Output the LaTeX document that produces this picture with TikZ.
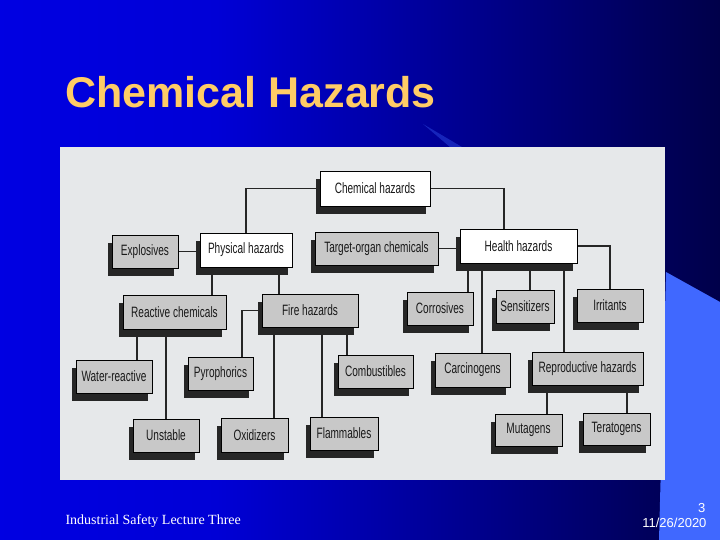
\documentclass[tikz,border=0pt]{standalone}
\usepackage{fontspec}
\usetikzlibrary{shadows}
\newfontfamily\boxfont[FakeStretch=0.67]{Liberation Sans}
\newfontfamily\titlefont{Liberation Sans}
\newfontfamily\footfont{Liberation Serif}
\definecolor{titlecol}{RGB}{255,204,102}
\definecolor{panelcol}{RGB}{230,232,234}
\definecolor{stipple}{RGB}{200,200,200}
\definecolor{accentblue}{RGB}{64,104,255}
\pgfdeclarehorizontalshading{slidebg}{100bp}{rgb(0bp)=(0,0,0.96); rgb(40bp)=(0,0,0.84); rgb(70bp)=(0,0,0.36); rgb(90bp)=(0,0,0.08); rgb(100bp)=(0,0,0.01)}
\pgfdeclarelayer{backdrop}
\pgfdeclarelayer{wires}
\pgfsetlayers{backdrop,wires,main}
\begin{document}
\begin{tikzpicture}[x=1pt,y=-1pt,
  hbox/.style={draw=black, line width=0.8pt, inner sep=0pt,
    font=\boxfont\fontsize{15}{15}\selectfont, text=black!90,
    drop shadow={shadow xshift=-4pt, shadow yshift=-8pt, fill=black!85, opacity=1}},
  whitebox/.style={hbox, fill=white},
  graybox/.style={hbox, fill=stipple},
  wire/.style={line width=1.1pt, draw=black!85}]
\useasboundingbox (0,0) rectangle (720,540);
\begin{pgfonlayer}{backdrop}
  \shade[shading=slidebg] (0,0) rectangle (720,540);
  \fill[accentblue] (666,272) -- (720,302) -- (720,540) -- (659,540) -- cycle;
  \fill[accentblue, opacity=0.35] (423,124) -- (462,147) -- (450,147) -- cycle;
  \fill[panelcol] (60,147) rectangle (665,480);
\end{pgfonlayer}

% title
\node[anchor=base west, font=\titlefont\bfseries\fontsize{43}{43}\selectfont, text=titlecol] (title) at (62,108) {Chemical Hazards};

% boxes
\node[whitebox, minimum width=110pt, minimum height=35pt] (chem) at (375,188.5) {Chemical hazards};
\node[whitebox, minimum width=92pt, minimum height=34pt] (phys) at (246,250) {Physical hazards};
\node[graybox, minimum width=66pt, minimum height=33pt] (expl) at (145,251.5) {Explosives};
\node[graybox, minimum width=123pt, minimum height=33pt] (target) at (376.5,248.5) {Target-organ chemicals};
\node[whitebox, minimum width=117pt, minimum height=34pt] (health) at (518.5,246) {Health hazards};
\node[graybox, minimum width=103pt, minimum height=34pt] (react) at (174.5,312) {Reactive chemicals};
\node[graybox, minimum width=96pt, minimum height=33pt] (fire) at (310,310.5) {Fire hazards};
\node[graybox, minimum width=66pt, minimum height=33pt] (corr) at (440,308.5) {Corrosives};
\node[graybox, minimum width=58pt, minimum height=33pt] (sens) at (525,306.5) {Sensitizers};
\node[graybox, minimum width=66pt, minimum height=33pt] (irr) at (610,305.5) {Irritants};
\node[graybox, minimum width=76pt, minimum height=33pt] (water) at (114,376.5) {Water-reactive};
\node[graybox, minimum width=65pt, minimum height=33pt] (pyro) at (220.5,373.5) {Pyrophorics};
\node[graybox, minimum width=75pt, minimum height=33pt] (comb) at (375.5,371.5) {Combustibles};
\node[graybox, minimum width=75pt, minimum height=34pt] (carc) at (472.5,370) {Carcinogens};
\node[graybox, minimum width=111pt, minimum height=33pt] (repro) at (587.5,368.5) {Reproductive hazards};
\node[graybox, minimum width=66pt, minimum height=33pt] (unst) at (166,435.5) {Unstable};
\node[graybox, minimum width=67pt, minimum height=34pt] (oxid) at (254.5,435) {Oxidizers};
\node[graybox, minimum width=68pt, minimum height=33pt] (flam) at (344,433.5) {Flammables};
\node[graybox, minimum width=67pt, minimum height=32pt] (mut) at (528.5,430) {Mutagens};
\node[graybox, minimum width=67pt, minimum height=32pt] (ter) at (616.5,429) {Teratogens};

% connectors
\begin{pgfonlayer}{wires}
  \draw[wire] (chem.west) -| (phys.north);
  \draw[wire] (chem.east) -| (504,0 |- health.north);
  \draw[wire] (expl.east) -- (expl.east -| phys.west);
  \draw[wire] (target.east) -- (target.east -| health.west);
  \draw[wire] (health.east) -| (irr.north);
  \draw[wire] (212,0 |- phys.south) -- (212,0 |- react.north);
  \draw[wire] (279,0 |- phys.south) -- (279,0 |- fire.north);
  \draw[wire] (137,0 |- react.south) -- (137,0 |- water.north);
  \draw[wire] (unst.north |- react.south) -- (unst.north);
  \draw[wire] (fire.west) -| (242,0 |- pyro.north);
  \draw[wire] (274,0 |- fire.south) -- (274,0 |- oxid.north);
  \draw[wire] (322,0 |- fire.south) -- (322,0 |- flam.north);
  \draw[wire] (347,0 |- fire.south) -- (347,0 |- comb.north);
  \draw[wire] (468,0 |- health.south) -- (468,0 |- corr.north);
  \draw[wire] (482,0 |- health.south) -- (482,0 |- carc.north);
  \draw[wire] (530,0 |- health.south) -- (530,0 |- sens.north);
  \draw[wire] (564,0 |- health.south) -- (564,0 |- repro.north);
  \draw[wire] (547,0 |- repro.south) -- (547,0 |- mut.north);
  \draw[wire] (627,0 |- repro.south) -- (627,0 |- ter.north);
\end{pgfonlayer}

% footer
\node[anchor=base west, font=\footfont\fontsize{14}{14}\selectfont, text=white] (foot) at (62,524) {Industrial Safety Lecture Three};
\node[anchor=base east, font=\titlefont\fontsize{13}{13}\selectfont, text=white] (pg) at (709,512) {3};
\node[anchor=base east, font=\titlefont\fontsize{13}{13}\selectfont, text=white] (date) at (710,527) {11/26/2020};
\end{tikzpicture}
\end{document}
